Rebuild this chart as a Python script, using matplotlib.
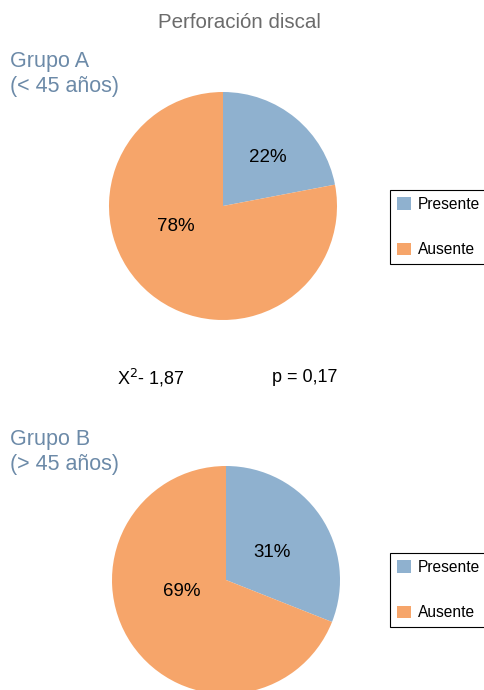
import numpy as np
import matplotlib.pyplot as plt
from matplotlib.patches import Patch

plt.rcParams['font.family'] = ['Liberation Sans', 'DejaVu Sans']

categorias = ['Presente', 'Ausente']
grupo_a = [22, 78]
grupo_b = [31, 69]
colores = ['#8fb1cf', '#f6a56a']

W, H = 485, 690


def pie(fig, cx, cy, r, valores, lab_pos):
    ax = fig.add_axes([(cx - r) / W, 1 - (cy + r) / H, 2 * r / W, 2 * r / H])
    ax.pie(valores, colors=colores, startangle=90, counterclock=False,
           wedgeprops=dict(linewidth=0))
    ax.set_xlim(-1, 1)
    ax.set_ylim(-1, 1)
    ax.set_aspect('equal')
    ax.axis('off')
    for v, (ang, dist) in zip(valores, lab_pos):
        a = np.radians(ang)
        ax.text(dist * np.cos(a), dist * np.sin(a), f'{v}%', ha='center',
                va='center', fontsize=13.5, color='black')
    return ax


def legend(fig, x, y):
    handles = [Patch(facecolor=c, edgecolor='none') for c in colores]
    lg = fig.legend(handles, categorias, loc='upper left',
                    bbox_to_anchor=(x / W, 1 - y / H), borderaxespad=0,
                    fancybox=False, edgecolor='black', framealpha=1,
                    fontsize=11.2, labelspacing=1.95, handlelength=0.9,
                    handleheight=0.9, handletextpad=0.45, borderpad=0.45)
    lg.get_frame().set_linewidth(0.8)


fig = plt.figure(figsize=(W / 100, H / 100), dpi=100)

fig.text(239 / W, 1 - 23 / H, 'Perforación discal', ha='center', va='center',
         fontsize=14.8, color='#6b6b6b')

azul = '#6c8aa8'
fig.text(10 / W, 1 - 74 / H, 'Grupo A\n(< 45 años)', ha='left', va='center',
         fontsize=15.5, color=azul, linespacing=1.3)
fig.text(10 / W, 1 - 452 / H, 'Grupo B\n(> 45 años)', ha='left', va='center',
         fontsize=15.5, color=azul, linespacing=1.3)

pie(fig, 223, 206, 114, grupo_a, [(47, 0.58), (-156, 0.45)])
pie(fig, 226, 580, 114, grupo_b, [(31, 0.47), (-165, 0.40)])

legend(fig, 390, 190)
legend(fig, 390, 553)

fig.text(117 / W, 1 - 378 / H, r'X$^{2}$- 1,87', ha='left', va='center',
         fontsize=13, color='black')
fig.text(272 / W, 1 - 378 / H, 'p = 0,17', ha='left', va='center',
         fontsize=13, color='black')

fig.savefig('out.png', dpi=100)
